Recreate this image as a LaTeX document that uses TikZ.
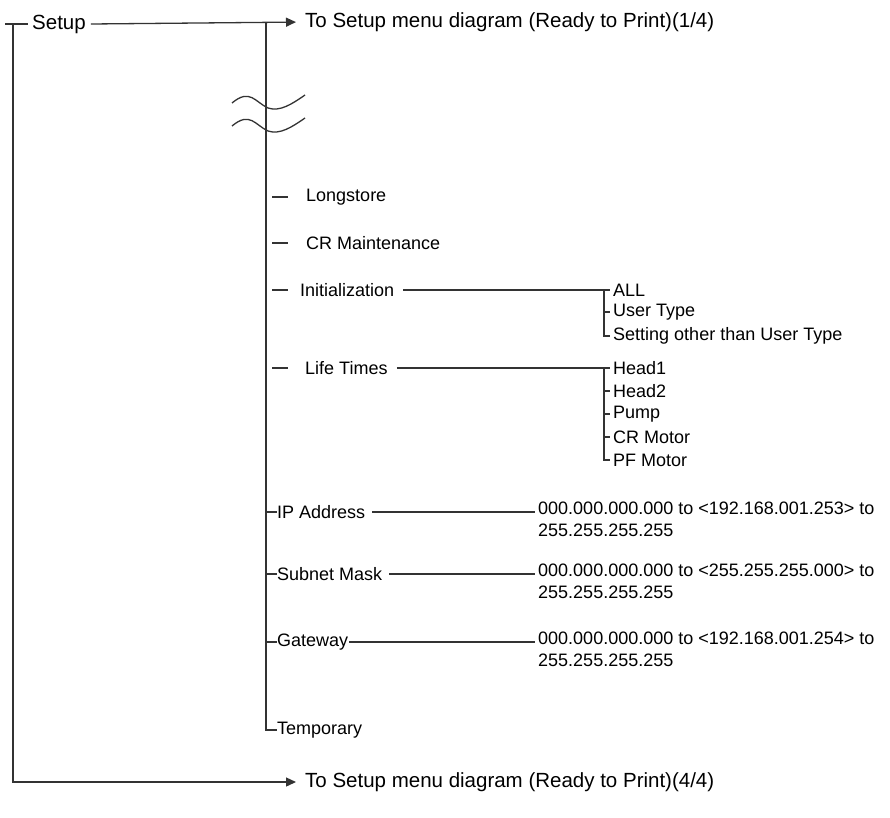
\documentclass[tikz,border=0pt]{standalone}
\usepackage{fontspec}
\setmainfont{Liberation Sans}
\usetikzlibrary{arrows.meta}
\begin{document}
\begin{tikzpicture}[x=1pt,y=-1pt,
  ln/.style={line width=1.3pt,draw=black!80},
  lbl/.style={anchor=west,inner sep=0pt,font=\fontsize{18}{20}\selectfont},
  arr/.style={ln,-{Triangle[length=10pt,width=9pt]}, shorten >=9pt}]
\useasboundingbox (0,0) rectangle (890,817);
% left trunk
\coordinate (t0) at (5,24);
\coordinate (lt) at (13,24);
\coordinate (lb) at (13,780);
\node[lbl,font=\fontsize{20.5}{22}\selectfont] (setup) at (32,24) {Setup};
\draw[ln] (t0) -- (28,24);
\draw[ln] (lt) -- (lb);
\node[lbl,font=\fontsize{20.5}{22}\selectfont] (top) at (305,22) {To Setup menu diagram (Ready to Print)(1/4)};
\node[lbl,font=\fontsize{20.5}{22}\selectfont] (bot) at (305,782) {To Setup menu diagram (Ready to Print)(4/4)};
\draw[arr] (setup.east)+(5,0) -- (top.west);
\draw[arr] (lb) |- (bot.west);
% main trunk
\coordinate (mt) at (266,23);
\coordinate (mb) at (266,730);
\draw[ln] (mt) -- (mb);
% break waves
\foreach \yy in {100,123}{
 \draw[line width=1.3pt,black!80] (232,\yy+3) .. controls (250,\yy-12) and (255,\yy+2) .. (268,\yy+8) .. controls (280,\yy+12) and (292,\yy+4) .. (305,\yy-5);
}
% level-1 entries
\node[lbl] (ls) at (306,197) {Longstore};
\draw[ln] (272,197) -- (288,197);
\node[lbl] (crm) at (306,243) {CR Maintenance};
\draw[ln] (272,243) -- (288,243);
\node[lbl] (ini) at (300,290) {Initialization};
\draw[ln] (272,290) -- (288,290);
\node[lbl] (lif) at (305,368) {Life Times};
\draw[ln] (272,368) -- (288,368);
\node[lbl] (ip) at (277,512) {IP Address};
\draw[ln] (266,512) -- (ip.west);
\node[lbl] (sm) at (277,574) {Subnet Mask};
\draw[ln] (266,574) -- (sm.west);
\node[lbl] (gw) at (277,642) {Gateway};
\draw[ln] (266,642) -- (gw.west);
\node[lbl] (tmp) at (277,730) {Temporary};
\draw[ln] (266,715) -- (mb) -- (tmp.west);
% Initialization sub
\tikzset{sub/.style={lbl,inner xsep=3pt}}
\node[sub] (all) at (610,290) {ALL};
\node[sub] (ut) at (610,312) {User Type};
\node[sub] (so) at (610,336) {Setting other than User Type};
\draw[ln] (ini.east)+(9,0) -- (all.west);
\draw[ln] (604,290) |- (so.west);
\draw[ln] (604,312) -- (ut.west);
% Life times sub
\node[sub] (h1) at (610,368) {Head1};
\node[sub] (h2) at (610,391) {Head2};
\node[sub] (pu) at (610,414) {Pump};
\node[sub] (crmo) at (610,437) {CR Motor};
\node[sub] (pf) at (610,460) {PF Motor};
\draw[ln] (lif.east)+(9,0) -- (h1.west);
\draw[ln] (604,368) |- (pf.west);
\foreach \n in {h2,pu,crmo}{\draw[ln] (604,0 |- \n.west) -- (\n.west);}
% address values
\tikzset{val/.style={lbl,anchor=north west,align=left,font=\fontsize{18}{22}\selectfont}}
\node[val] (ipv) at (538,502) {000.000.000.000 to <192.168.001.253> to\\255.255.255.255};
\node[val] (smv) at (538,564) {000.000.000.000 to <255.255.255.000> to\\255.255.255.255};
\node[val] (gwv) at (538,632) {000.000.000.000 to <192.168.001.254> to\\255.255.255.255};
\draw[ln] (ip.east)+(7,0) -- (535,512);
\draw[ln] (sm.east)+(7,0) -- (535,574);
\draw[ln] (gw.east)+(1,0) -- (535,642);
\end{tikzpicture}
\end{document}
